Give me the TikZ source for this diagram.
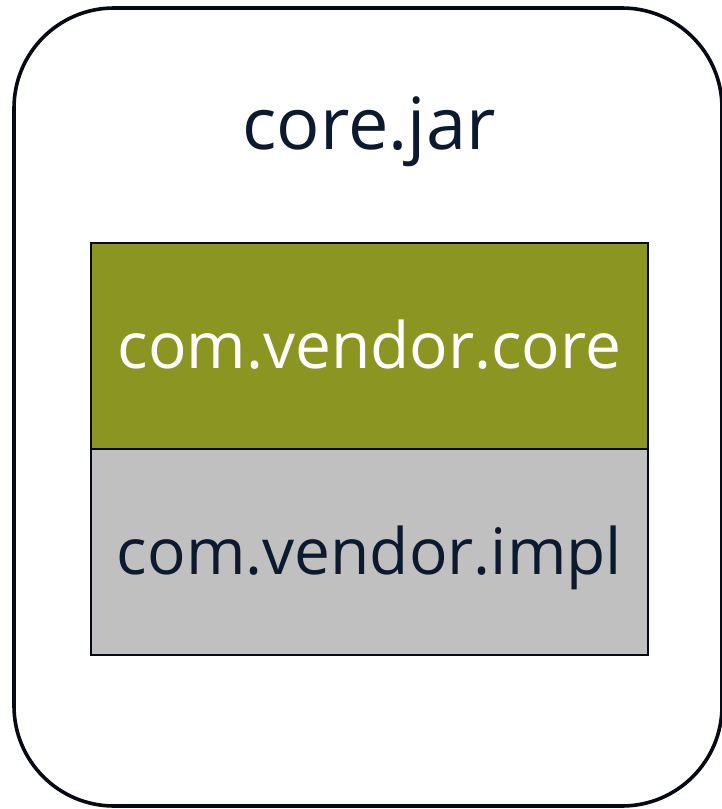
\documentclass[tikz,border=0pt]{standalone}
\usepackage{fontspec}
\setmainfont{Open Sans}
\usepackage{tikz}
\usetikzlibrary{positioning}
\definecolor{inkblue}{HTML}{0B1A2E}
\definecolor{edge}{HTML}{060A12}
\definecolor{pkggreen}{HTML}{8A9522}
\definecolor{pkggray}{HTML}{C0C0C0}
\tikzstyle{jar}=[rectangle,draw=edge,rounded corners=100pt,line width=3.6pt,inner sep=0pt]
\tikzstyle{package}=[rectangle,draw=edge,line width=2.8pt,inner sep=0pt,outer sep=0pt,minimum width=557pt,minimum height=206pt,text height=44pt,text depth=0pt]
\tikzset{every picture/.style={
    x=1pt,y=-1pt
  }
}

\begin{document}
\begin{tikzpicture}
      \useasboundingbox (0,0) rectangle (721,809);
      \node[jar,minimum width=708pt,minimum height=798pt] at (368,407) (jar) {};
      \node[text=inkblue,anchor=base] at (369,149) (jarname) {\fontsize{72}{86}\selectfont core.jar};
      \node[package,fill=pkggreen,text=white] at (369.5,346) (core) {\fontsize{64}{77}\selectfont com.vendor.core};
      \node[package,fill=pkggray,text=inkblue,below=0pt of core] (impl) {\fontsize{64}{77}\selectfont com.vendor.impl};
    \end{tikzpicture}
\end{document}
